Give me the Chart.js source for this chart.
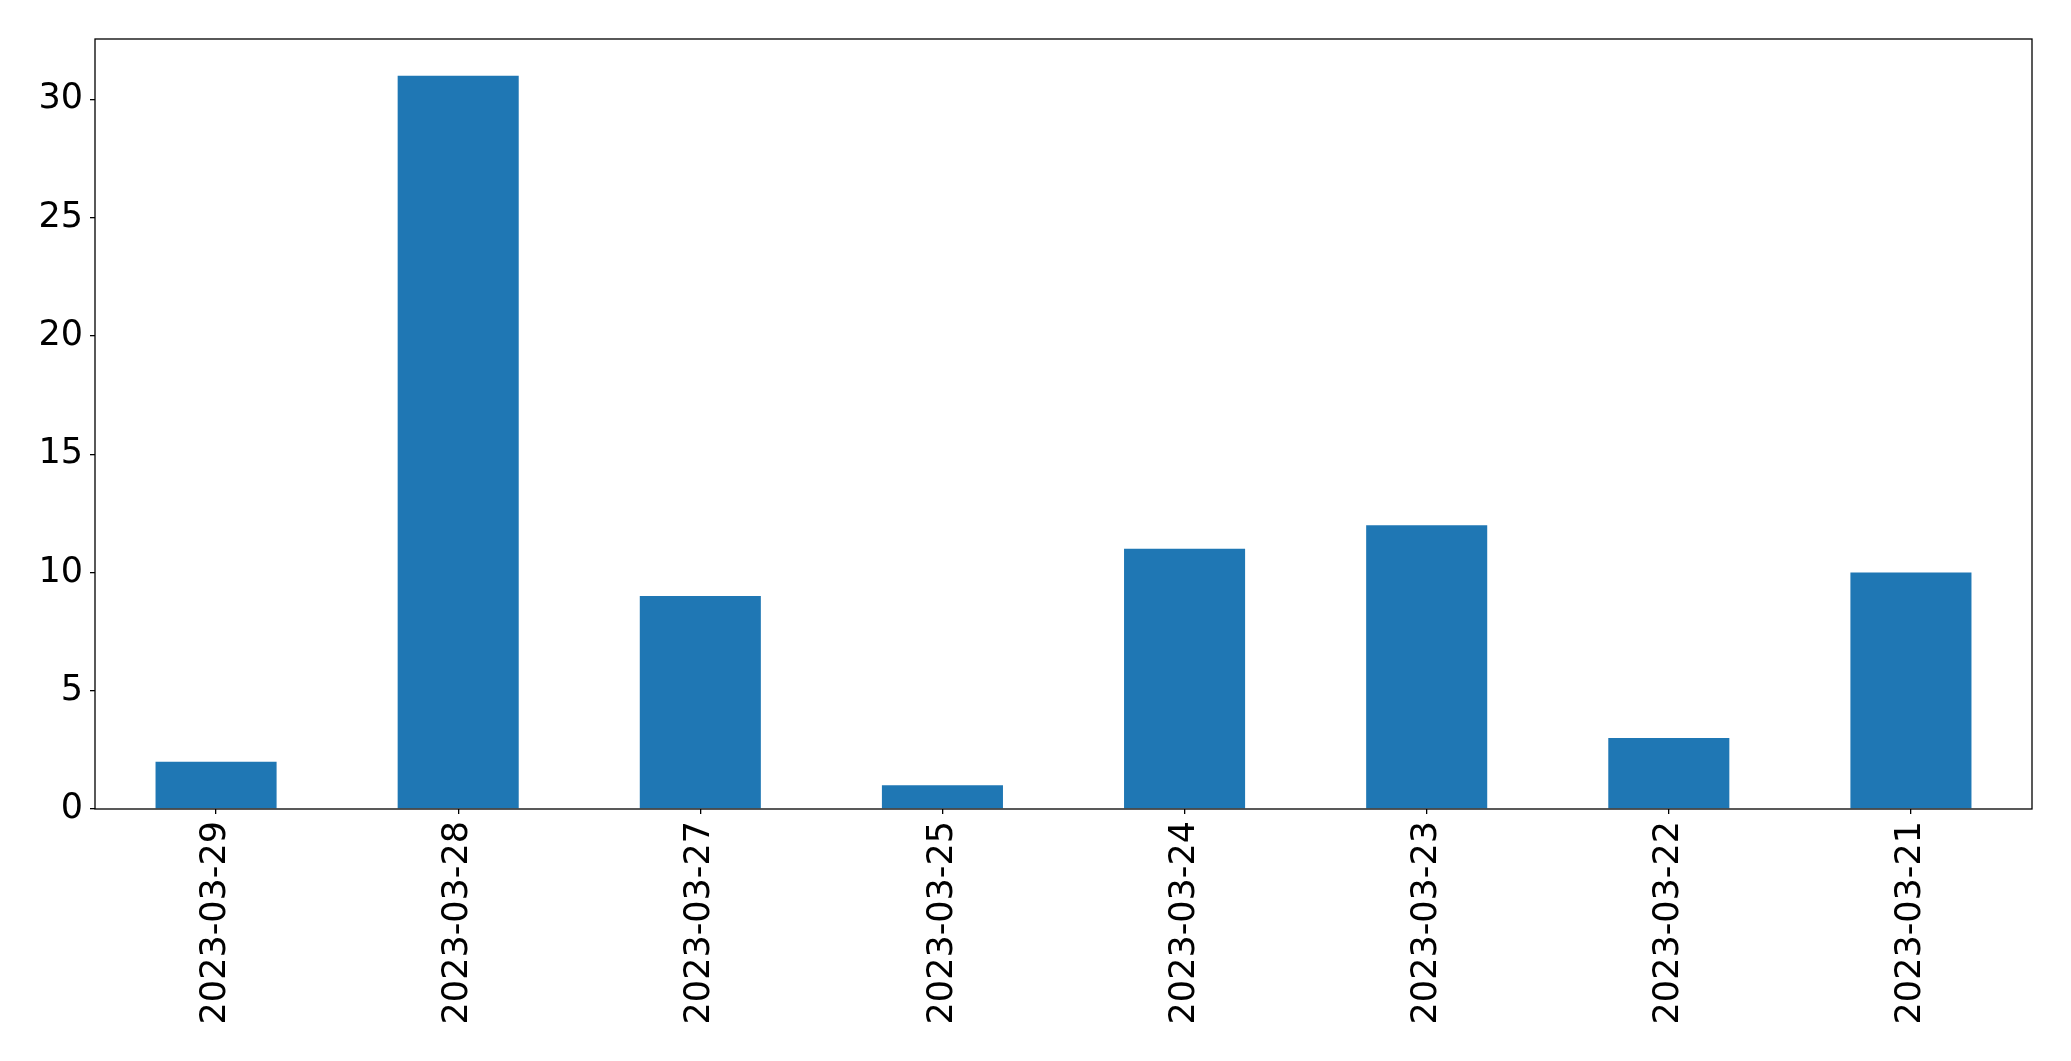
<!DOCTYPE html>
<html>
<head>
<meta charset="utf-8">
<script src="https://cdn.jsdelivr.net/npm/chart.js@4/dist/chart.umd.min.js"></script>
<style>
  html, body { margin: 0; padding: 0; background: #fff; }
  #wrap { width: 2071px; height: 1061px; }
</style>
</head>
<body>
<div id="wrap"><canvas id="chart" width="2071" height="1061"></canvas></div>
<script>
// bar values
const dates  = ['2023-03-29', '2023-03-28', '2023-03-27', '2023-03-25',
                '2023-03-24', '2023-03-23', '2023-03-22', '2023-03-21'];
const counts = [2, 31, 9, 1, 11, 12, 3, 10];
const yTicks = [0, 5, 10, 15, 20, 25, 30];

const tickFont = { family: "'DejaVu Sans', sans-serif", size: 35 };

// matplotlib-style box around the axes
const frame = {
  id: 'frame',
  afterDraw(chart) {
    const { ctx, chartArea: a } = chart;
    ctx.save();
    ctx.strokeStyle = '#000';
    ctx.lineWidth = 1.3;
    ctx.strokeRect(a.left, a.top, a.right - a.left, a.bottom - a.top);
    ctx.restore();
  },
};

new Chart(document.getElementById('chart'), {
  type: 'bar',
  data: {
    labels: dates,
    datasets: [{
      data: counts,
      backgroundColor: '#1f77b4',
      borderWidth: 0,
      barPercentage: 0.5,
      categoryPercentage: 1.0,
    }],
  },
  options: {
    responsive: false,
    animation: false,
    layout: { padding: { top: 39, right: 39, left: 0, bottom: 0 } },
    plugins: { legend: { display: false }, tooltip: { enabled: false } },
    scales: {
      x: {
        offset: true,
        grid: { offset: false, drawOnChartArea: false, drawTicks: true, tickLength: 5, color: '#000', lineWidth: 1.3 },
        border: { display: false },
        ticks: { font: tickFont, color: '#000', minRotation: 90, maxRotation: 90, padding: 7, autoSkip: false },
        afterFit: s => { s.height = 252; },
      },
      y: {
        min: 0,
        max: 31 * 1.05,
        grid: { drawOnChartArea: false, drawTicks: true, tickLength: 5, color: '#000', lineWidth: 1.3 },
        border: { display: false },
        ticks: { font: tickFont, color: '#000', stepSize: 5, includeBounds: false, padding: 7 },
        afterBuildTicks: s => { s.ticks = yTicks.map(v => ({ value: v })); },
        afterFit: s => { s.width = 95; },
      },
    },
  },
  plugins: [frame],
});
</script>
</body>
</html>
